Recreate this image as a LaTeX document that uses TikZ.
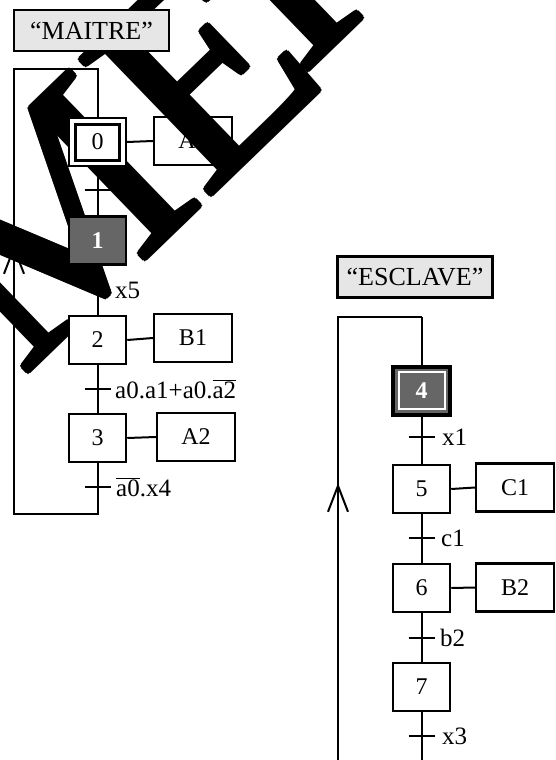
\documentclass[tikz,border=0pt]{standalone}
\usepackage{fontspec}
\setmainfont{Liberation Serif}
\newfontfamily\wmfont{Liberation Serif}
\usetikzlibrary{arrows.meta}
\definecolor{titlegray}{HTML}{E6E6E6}
\definecolor{stepgray}{HTML}{666666}
\newcommand\ovl[1]{\ensuremath{\overline{\hbox{#1}}}}
\begin{document}
\begin{tikzpicture}[x=1pt,y=-1pt,
  ln/.style={line width=2pt},
  stepbox/.style={draw, line width=2.5pt, fill=white, minimum width=57pt, minimum height=48pt, inner sep=0pt, font=\fontsize{24}{28}\selectfont},
  actbox/.style={draw, line width=2.2pt, fill=white, minimum width=78pt, minimum height=48pt, inner sep=0pt, font=\fontsize{24}{28}\selectfont},
  activestep/.style={stepbox, fill=stepgray, text=white, font=\fontsize{24}{28}\selectfont\bfseries},
  titlebox/.style={draw, line width=2.5pt, fill=titlegray, minimum width=155pt, minimum height=41pt, inner sep=0pt, font=\fontsize{26}{30}\selectfont},
  tick/.style={line width=2.5pt},
  tlabel/.style={anchor=west, inner sep=0pt, font=\fontsize{25}{30}\selectfont},
  loopbarb/.style={-{Straight Barb[length=26pt,width=20pt]}},
  watermark/.style={rotate=44, anchor=base west, inner sep=0pt, text=black, font=\wmfont\fontsize{287}{290}\selectfont}
]
\useasboundingbox (0,0) rectangle (556,760);

% action A1 (lies under the watermark)
\node[actbox] (a1) at (193,141) {A1};

% watermark: large rotated serif letters, thickened by overprinting
\foreach \dx/\dy [count=\k] in {0/0, 3/0, -3/0, 0/3, 0/-3, 2/2, -2/2, 2/-2, -2/-2} {
  \node[watermark] (wm\k) at (22+\dx,378+\dy) {ME};
  \node[watermark] (wi\k) at (300+\dx,78+\dy) {I};
}

% ---------------- MAITRE ----------------
\node[titlebox] (tm) at (91.5,30.5) {``MAITRE''};

\coordinate (m1) at (97.5,69);
\coordinate (m2) at (14,69);
\coordinate (m3) at (14,514);
\coordinate (m4) at (97.5,514);
\coordinate (ma) at (14,245);

\coordinate (t01) at (97.5,190);
\coordinate (t12) at (97.5,290);
\coordinate (t23) at (97.5,389);
\coordinate (t30) at (97.5,487);

\node[stepbox, line width=2pt] (s0) at (97.5,142) {};
\node[stepbox] (s1) at (97.5,240.5) {};
\node[stepbox] (s2) at (97.5,340) {};
\node[stepbox] (s3) at (97.5,438) {};

\draw[ln] (s0.south) -- (s1.north);
\draw[ln] (s1.south) -- (s2.north);
\draw[ln] (s2.south) -- (s3.north);
\draw[ln] (s3.south) -- (m4) -- (m3) -- (m2) -- (m1) -- (s0.north);
\draw[ln, loopbarb] (m3) -- (ma);

\node[stepbox, line width=2pt] (s0b) at (97.5,142) {0};
\draw[line width=3pt] ([shift={(7,7)}]s0b.north west) rectangle ([shift={(-8,-7)}]s0b.south east);
\node[activestep] (s1b) at (97.5,240.5) {1};
\node[stepbox] (s2b) at (97.5,340) {2};
\node[stepbox] (s3b) at (97.5,438) {3};

\node[actbox] (b1) at (193,338) {B1};
\node[actbox] (a2) at (196,437) {A2};
\draw[ln] (s0b.east) -- (a1.west);
\draw[ln] (s2b.east) -- (b1.west);
\draw[ln] (s3b.east) -- (a2.west);

\draw[tick] ([xshift=-13pt]t01) -- ([xshift=13pt]t01);
\draw[tick] ([xshift=-13pt]t12) -- ([xshift=13pt]t12);
\draw[tick] ([xshift=-13pt]t23) -- ([xshift=13pt]t23);
\draw[tick] ([xshift=-13pt]t30) -- ([xshift=13pt]t30);

\node[tlabel] (l12) at (115,290) {x5};
\node[tlabel] (l23) at (115,389) {a0.a1+a0.\ovl{a2}};
\node[tlabel] (l30) at (116,487) {\ovl{a0}.x4};

% ---------------- ESCLAVE ----------------
\node[titlebox] (te) at (415,277) {``ESCLAVE''};

\coordinate (e1) at (421.5,317);
\coordinate (e2) at (338,317);
\coordinate (e3) at (338,760);
\coordinate (ea) at (338,483);
\coordinate (e4) at (421.5,760);

\coordinate (t45) at (421.5,437);
\coordinate (t56) at (421.5,538);
\coordinate (t67) at (421.5,638);
\coordinate (t74) at (421.5,736);

\node[stepbox, line width=4pt, fill=stepgray] (s4) at (421.5,390.5) {};
\node[stepbox] (s5) at (421.5,489) {5};
\node[stepbox] (s6) at (421.5,588) {6};
\node[stepbox] (s7) at (421.5,687) {7};
\draw[white, line width=2pt] ([shift={(7.5,7.5)}]s4.north west) rectangle ([shift={(-7.5,-7.5)}]s4.south east);
\node[text=white, font=\fontsize{24}{28}\selectfont\bfseries] (s4t) at (s4) {4};

\draw[ln] (e1) -- (s4.north);
\draw[ln] (s4.south) -- (s5.north);
\draw[ln] (s5.south) -- (s6.north);
\draw[ln] (s6.south) -- (s7.north);
\draw[ln] (s7.south) -- (e4);
\draw[ln] (e1) -- (e2) -- (e3);
\draw[ln, loopbarb] (e3) -- (ea);

\node[actbox] (c1) at (515,487.5) {C1};
\node[actbox] (b2) at (515,587.5) {B2};
\draw[ln] (s5.east) -- (c1.west);
\draw[ln] (s6.east) -- (b2.west);

\draw[tick] ([xshift=-13pt]t45) -- ([xshift=13pt]t45);
\draw[tick] ([xshift=-13pt]t56) -- ([xshift=13pt]t56);
\draw[tick] ([xshift=-13pt]t67) -- ([xshift=13pt]t67);
\draw[tick] ([xshift=-13pt]t74) -- ([xshift=13pt]t74);

\node[tlabel] (l45) at (442,437) {x1};
\node[tlabel] (l56) at (441,538) {c1};
\node[tlabel] (l67) at (440,638) {b2};
\node[tlabel] (l74) at (442,736) {x3};
\end{tikzpicture}
\end{document}
